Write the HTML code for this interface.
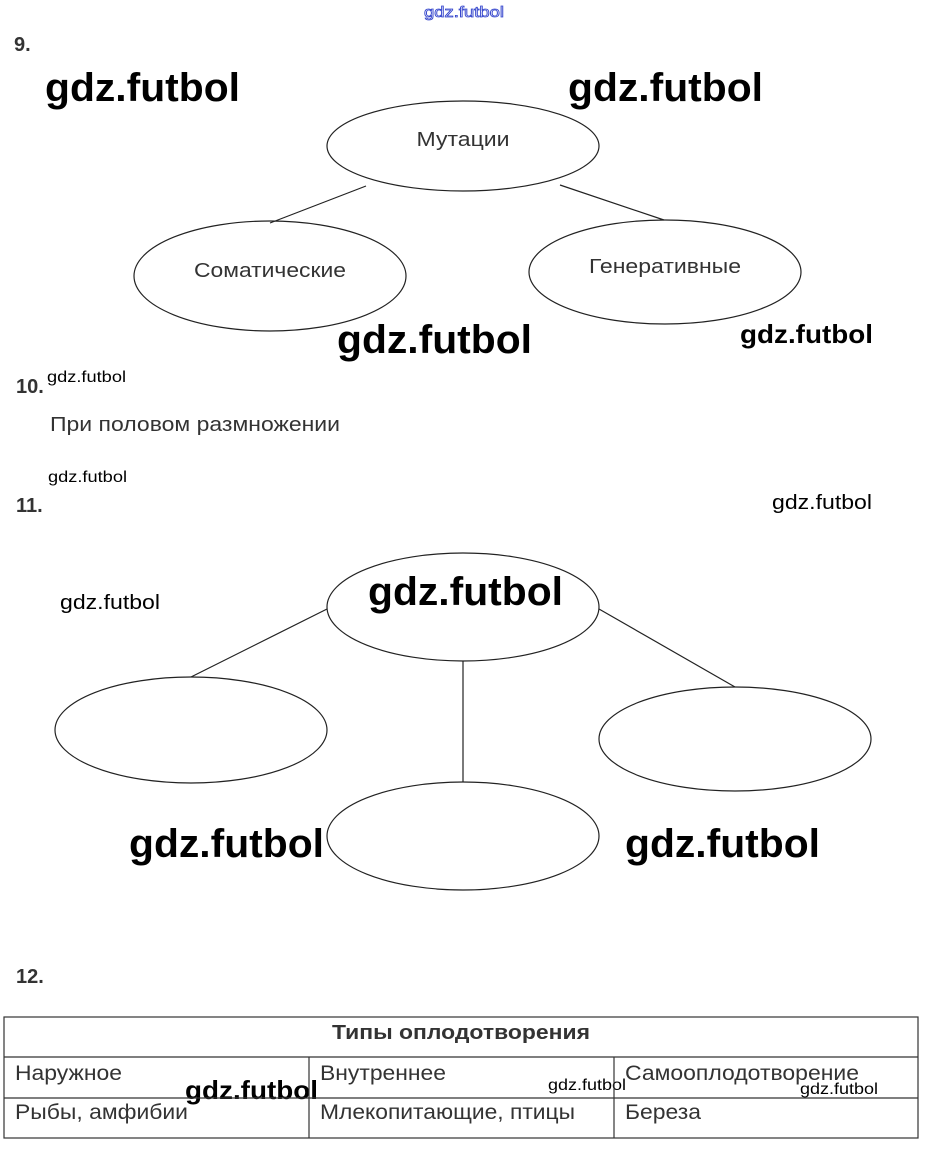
<!DOCTYPE html>
<html><head><meta charset="utf-8"><style>
html,body{margin:0;padding:0;background:#fff;}
svg{display:block}
</style></head><body>
<svg width="927" height="1149" viewBox="0 0 927 1149" xmlns="http://www.w3.org/2000/svg" font-family="Liberation Sans, sans-serif">
<rect width="927" height="1149" fill="#fff"/>
<text x="424" y="17" font-size="15" fill="#fff" stroke="#3344cc" stroke-width="0.8" textLength="80" lengthAdjust="spacingAndGlyphs">gdz.futbol</text>
<text x="14" y="51" font-size="20" font-weight="bold" fill="#333">9.</text>
<g font-weight="bold" fill="#000">
<text x="45" y="101" font-size="40" textLength="195" lengthAdjust="spacingAndGlyphs">gdz.futbol</text>
<text x="568" y="101" font-size="40" textLength="195" lengthAdjust="spacingAndGlyphs">gdz.futbol</text>
<text x="337" y="353" font-size="40" textLength="195" lengthAdjust="spacingAndGlyphs">gdz.futbol</text>
<text x="740" y="343" font-size="26" textLength="133" lengthAdjust="spacingAndGlyphs">gdz.futbol</text>
<text x="368" y="605" font-size="40" textLength="195" lengthAdjust="spacingAndGlyphs">gdz.futbol</text>
<text x="129" y="857" font-size="40" textLength="195" lengthAdjust="spacingAndGlyphs">gdz.futbol</text>
<text x="625" y="857" font-size="40" textLength="195" lengthAdjust="spacingAndGlyphs">gdz.futbol</text>
<text x="185" y="1099" font-size="26" textLength="133" lengthAdjust="spacingAndGlyphs">gdz.futbol</text>
</g>
<g fill="#000">
<text x="47" y="382" font-size="16" textLength="79" lengthAdjust="spacingAndGlyphs">gdz.futbol</text>
<text x="48" y="482" font-size="16" textLength="79" lengthAdjust="spacingAndGlyphs">gdz.futbol</text>
<text x="772" y="509" font-size="20" textLength="100" lengthAdjust="spacingAndGlyphs">gdz.futbol</text>
<text x="60" y="609" font-size="20" textLength="100" lengthAdjust="spacingAndGlyphs">gdz.futbol</text>
<text x="548" y="1090" font-size="16" textLength="78" lengthAdjust="spacingAndGlyphs">gdz.futbol</text>
<text x="800" y="1094" font-size="16" textLength="78" lengthAdjust="spacingAndGlyphs">gdz.futbol</text>
</g>
<g fill="none" stroke="#222" stroke-width="1.2">
<ellipse cx="463" cy="146" rx="136" ry="45"/>
<ellipse cx="270" cy="276" rx="136" ry="55"/>
<ellipse cx="665" cy="272" rx="136" ry="52"/>
<line x1="270" y1="223" x2="366" y2="186"/>
<line x1="560" y1="185" x2="664" y2="220"/>
<ellipse cx="463" cy="607" rx="136" ry="54"/>
<ellipse cx="191" cy="730" rx="136" ry="53"/>
<ellipse cx="735" cy="739" rx="136" ry="52"/>
<ellipse cx="463" cy="836" rx="136" ry="54"/>
<line x1="327" y1="609" x2="191" y2="677"/>
<line x1="463" y1="661" x2="463" y2="782"/>
<line x1="599" y1="609" x2="735" y2="687"/>
</g>
<g fill="#333" font-size="20">
<text x="463" y="146" text-anchor="middle" textLength="93" lengthAdjust="spacingAndGlyphs">Мутации</text>
<text x="270" y="277" text-anchor="middle" textLength="152" lengthAdjust="spacingAndGlyphs">Соматические</text>
<text x="665" y="273" text-anchor="middle" textLength="152" lengthAdjust="spacingAndGlyphs">Генеративные</text>
<text x="50" y="431" textLength="290" lengthAdjust="spacingAndGlyphs">При половом размножении</text>
</g>
<text x="16" y="393" font-size="20" font-weight="bold" fill="#333">10.</text>
<text x="16" y="512" font-size="20" font-weight="bold" fill="#333">11.</text>
<text x="16" y="983" font-size="20" font-weight="bold" fill="#333">12.</text>
<g stroke="#333" stroke-width="1.2" fill="none">
<rect x="4" y="1017" width="914" height="121"/>
<line x1="4" y1="1057" x2="918" y2="1057"/>
<line x1="4" y1="1098" x2="918" y2="1098"/>
<line x1="309" y1="1057" x2="309" y2="1138"/>
<line x1="614" y1="1057" x2="614" y2="1138"/>
</g>
<text x="461" y="1039" font-size="20" font-weight="bold" fill="#333" text-anchor="middle" textLength="258" lengthAdjust="spacingAndGlyphs">Типы оплодотворения</text>
<g fill="#333" font-size="21">
<text x="15" y="1080" textLength="107" lengthAdjust="spacingAndGlyphs">Наружное</text>
<text x="320" y="1080" textLength="126" lengthAdjust="spacingAndGlyphs">Внутреннее</text>
<text x="625" y="1080" textLength="234" lengthAdjust="spacingAndGlyphs">Самооплодотворение</text>
<text x="15" y="1119" textLength="173" lengthAdjust="spacingAndGlyphs">Рыбы, амфибии</text>
<text x="320" y="1119" textLength="255" lengthAdjust="spacingAndGlyphs">Млекопитающие, птицы</text>
<text x="625" y="1119" textLength="76" lengthAdjust="spacingAndGlyphs">Береза</text>
</g>
</svg>
</body></html>
